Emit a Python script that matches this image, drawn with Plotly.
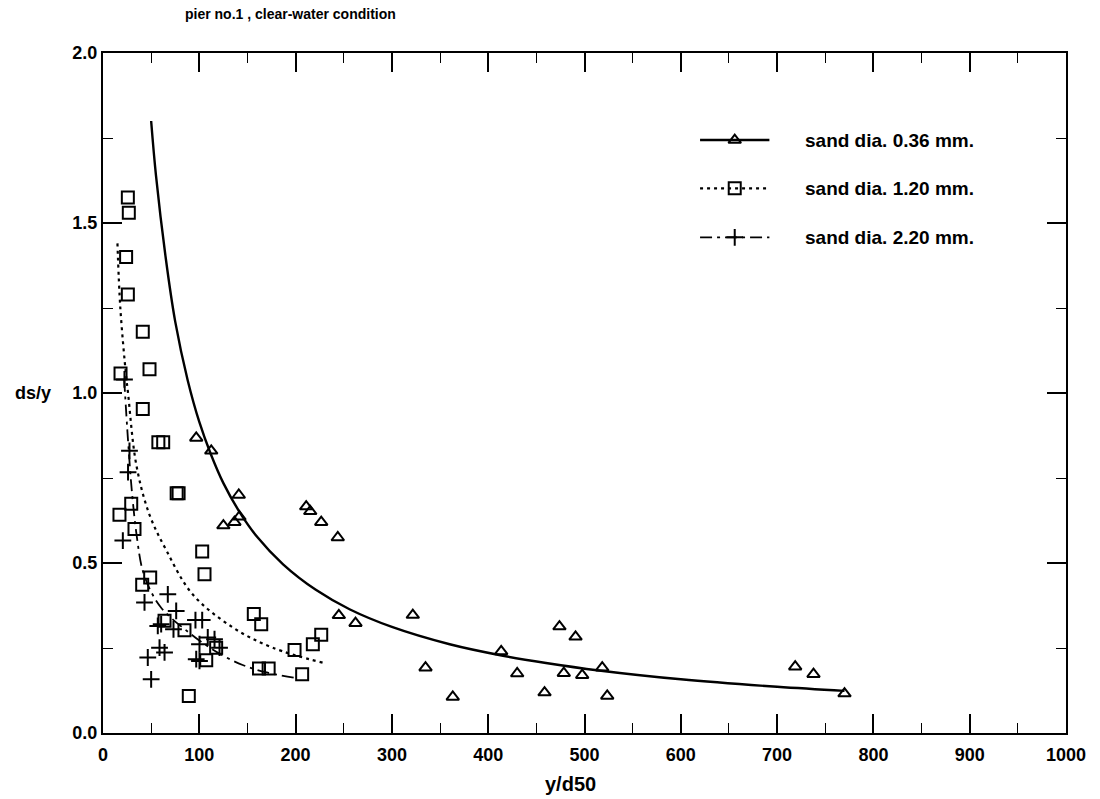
import plotly.graph_objects as go

# ---- measured points: sand dia. 0.36 mm (triangles) ----
x_036 = [96.8, 112.4, 141.0, 141.7, 136.5, 125.0, 211.0, 215.2, 226.6, 243.8,
         244.9, 262.2, 321.7, 334.9, 363.2, 413.5, 430.1, 458.5, 474.0, 478.5,
         490.7, 497.6, 518.4, 523.6, 718.8, 737.8, 770.0]
y_036 = [0.868, 0.830, 0.700, 0.636, 0.620, 0.610, 0.666, 0.652, 0.620, 0.575,
         0.346, 0.323, 0.347, 0.192, 0.106, 0.240, 0.175, 0.119, 0.313, 0.176,
         0.283, 0.170, 0.192, 0.109, 0.195, 0.173, 0.116]

# ---- measured points: sand dia. 1.20 mm (squares) ----
x_120 = [25.8, 26.8, 24.0, 25.8, 41.3, 48.3, 18.2, 41.3, 57.5, 62.5,
         76.5, 78.5, 29.3, 17.1, 32.7, 103.0, 105.4, 49.0, 40.7, 63.9,
         84.6, 156.6, 164.3, 226.6, 217.9, 198.9, 117.5, 107.2, 162.0, 172.0,
         206.8, 89.1]
y_120 = [1.575, 1.530, 1.400, 1.290, 1.180, 1.070, 1.057, 0.953, 0.855, 0.855,
         0.705, 0.705, 0.674, 0.642, 0.600, 0.534, 0.467, 0.457, 0.436, 0.330,
         0.302, 0.350, 0.320, 0.289, 0.261, 0.244, 0.251, 0.214, 0.190, 0.190,
         0.173, 0.109]

# ---- measured points: sand dia. 2.20 mm (plus signs) ----
x_220 = [22.3, 27.5, 26.0, 20.6, 43.1, 67.3, 76.0, 60.4, 56.9, 73.2,
         96.0, 103.0, 108.8, 115.8, 100.2, 121.0, 96.8, 100.2, 63.9, 58.7,
         46.5, 50.0]
y_220 = [1.040, 0.830, 0.767, 0.566, 0.384, 0.408, 0.359, 0.320, 0.315, 0.305,
         0.332, 0.332, 0.281, 0.276, 0.261, 0.251, 0.217, 0.212, 0.237, 0.251,
         0.222, 0.158]

# ---- trend curves ----
cx_036 = [50, 55, 65, 75, 88, 100, 112, 125, 142, 160, 187, 221, 256, 300,
          360, 414, 460, 515, 600, 700, 770]
cy_036 = [1.80, 1.64, 1.40, 1.21, 1.037, 0.915, 0.82, 0.735, 0.649, 0.577,
          0.496, 0.421, 0.364, 0.312, 0.261, 0.228, 0.206, 0.184, 0.158,
          0.136, 0.124]

cx_120 = [15, 18, 24, 26, 34.5, 48, 66, 93, 135, 176, 228]
cy_120 = [1.44, 1.25, 1.05, 1.00, 0.79, 0.644, 0.536, 0.408, 0.31, 0.251, 0.207]

cx_220 = [22, 26, 30, 35, 41, 50, 60, 72, 85, 100, 120, 145, 170, 200]
cy_220 = [1.04, 0.86, 0.71, 0.58, 0.48, 0.415, 0.37, 0.335, 0.305, 0.272,
          0.235, 0.20, 0.178, 0.162]

labels = ["sand dia. 0.36 mm.", "sand dia. 1.20 mm.", "sand dia. 2.20 mm."]

# key block placement (axis units): line span, symbol centre, text start, rows
KEY_X0, KEY_XM, KEY_X1, KEY_TEXT_X = 620, 656, 692, 727
KEY_ROWS = [1.744, 1.602, 1.458]

FONT = "Liberation Sans, Arial, sans-serif"
INK = "black"

series = [
    (x_036, y_036, cx_036, cy_036, "triangle-up-open", 11, "solid", 2.4),
    (x_120, y_120, cx_120, cy_120, "square-open", 12, "3px,4px", 2.2),
    (x_220, y_220, cx_220, cy_220, "cross-thin", 12, "12px,5px,3px,5px", 1.8),
]

fig = go.Figure()
for i, (px, py, cx, cy, sym, msz, dash, lw) in enumerate(series):
    marker = dict(symbol=sym, size=msz, color=INK,
                  line=dict(color=INK, width=2))
    fig.add_trace(go.Scatter(x=cx, y=cy, mode="lines", line_shape="spline",
                             line=dict(color=INK, width=lw, dash=dash),
                             showlegend=False, hoverinfo="skip"))
    fig.add_trace(go.Scatter(x=px, y=py, mode="markers", marker=marker,
                             name=labels[i], showlegend=False))
    # key entry: line sample with the symbol in its middle, then the label
    row = KEY_ROWS[i]
    fig.add_trace(go.Scatter(x=[KEY_X0, KEY_X1], y=[row, row], mode="lines",
                             line=dict(color=INK, width=lw, dash=dash),
                             showlegend=False, hoverinfo="skip"))
    fig.add_trace(go.Scatter(x=[KEY_XM], y=[row], mode="markers",
                             marker=marker, showlegend=False,
                             hoverinfo="skip"))
    fig.add_annotation(text=labels[i], x=KEY_TEXT_X, y=row, xref="x", yref="y",
                       xanchor="left", yanchor="middle", showarrow=False,
                       font=dict(family=FONT, size=19, color=INK,
                                 weight="bold"))

axis_common = dict(
    showline=True, linecolor=INK, linewidth=2, mirror="ticks",
    ticks="inside", ticklen=19, tickwidth=1.6, tickcolor=INK,
    showgrid=False, zeroline=False,
    tickfont=dict(family=FONT, size=18, color=INK, weight="bold"),
)

fig.update_xaxes(range=[0, 1000], tick0=0, dtick=100, ticklabelstandoff=4,
                 minor=dict(dtick=50, ticks="inside", ticklen=10,
                            tickwidth=1.4, tickcolor=INK),
                 **axis_common)
fig.update_yaxes(range=[0, 2.0], tick0=0, dtick=0.5, tickformat=".1f",
                 minor=dict(dtick=0.25, ticks="inside", ticklen=10,
                            tickwidth=1.4, tickcolor=INK),
                 **axis_common)

fig.add_annotation(text="pier no.1 , clear-water condition",
                   xref="paper", yref="paper", x=0.083, y=1.058,
                   xanchor="left", yanchor="middle", showarrow=False,
                   font=dict(family=FONT, size=14, color=INK, weight="bold"))
fig.add_annotation(text="ds/y", xref="paper", yref="y", x=-0.052, y=1.0,
                   xanchor="right", yanchor="middle", showarrow=False,
                   font=dict(family=FONT, size=18, color=INK, weight="bold"))
fig.add_annotation(text="y/d50", xref="x", yref="paper", x=485, y=-0.075,
                   xanchor="center", yanchor="middle", showarrow=False,
                   font=dict(family=FONT, size=20, color=INK, weight="bold"))

fig.update_layout(
    width=1100, height=799,
    margin=dict(l=103, r=34, t=53, b=66),
    paper_bgcolor="white", plot_bgcolor="white",
    showlegend=False,
)

fig.write_html("out.html")
